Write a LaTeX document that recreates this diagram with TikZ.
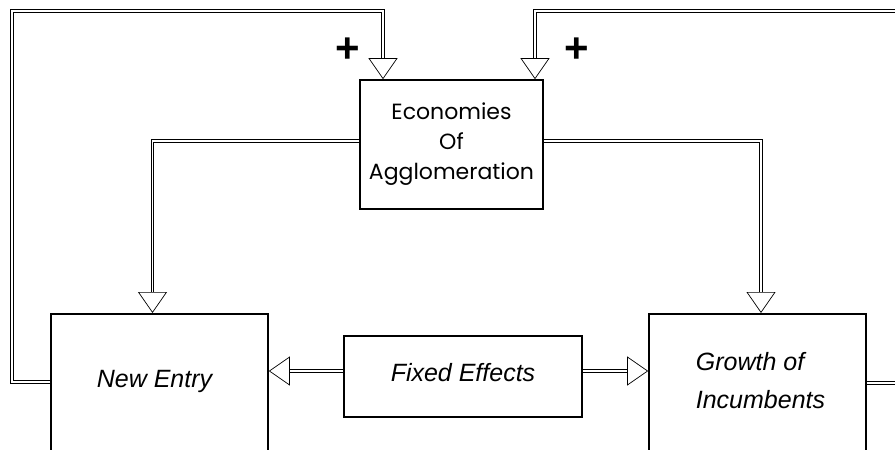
\documentclass[tikz,border=0pt]{standalone}
\usepackage{fontspec}
\setmainfont{Liberation Sans}
\newfontfamily\handfont{Poppins}
\usetikzlibrary{positioning, arrows.meta}

\tikzset{
  box/.style = {draw, line width=1.6pt, rectangle, inner sep=0pt},
  lbl/.style = {font=\itshape\fontsize{25}{38}\selectfont},
  link/.style = {double, line width=0.9pt, double distance=1.8pt,
                 -{Triangle[open, width=29pt, length=21pt, line width=0.7pt]}},
  sign/.style = {font=\bfseries\fontsize{42}{42}\selectfont}
}

\begin{document}
\begin{tikzpicture}[x=1pt, y=-1pt]
  \useasboundingbox (0,0) rectangle (895,450);
  \clip (0,0) rectangle (895,450);

  % boxes
  \node[box, minimum width=183pt, minimum height=129pt, align=center,
        font=\handfont\fontsize{22}{30}\selectfont] (econ) at (451.5,144.5)
        {Economies\\Of\\Agglomeration};
  \node[box, minimum width=217pt, minimum height=180pt, anchor=north] (entry) at (159.5,313) {};
  \node[box, minimum width=217pt, minimum height=180pt, anchor=north] (growth) at (757.5,313) {};
  \node[box, lbl, minimum width=238pt, minimum height=81pt, text depth=9pt] (fixed) at (463,376.5) {Fixed Effects};

  % texts in the cut boxes
  \node[lbl] (entrytxt) at ([xshift=-5pt, yshift=-68pt]entry.north) {New Entry};
  \node[lbl, align=left] (growthtxt) at ([xshift=3pt, yshift=-68pt]growth.north) {Growth of\\Incumbents};

  \node[sign] (plusl) at (348,50) {+};
  \node[sign] (plusr) at (577,50) {+};

  % links
  \coordinate (lcorner) at (12,11);
  \coordinate (rcorner) at (910,11);
  \draw[link] ([yshift=3.5pt]econ.west) -| ([xshift=-7pt]entry.north);
  \draw[link] ([yshift=3.5pt]econ.east) -| ([xshift=3.5pt]growth.north);
  \draw[link] ([yshift=5.5pt]fixed.west) -- ([yshift=5.5pt]fixed.west -| entry.east);
  \draw[link] ([yshift=5.5pt]fixed.east) -- ([yshift=5.5pt]fixed.east -| growth.west);
  \draw[link] ([yshift=-69pt]entry.north west) -| (lcorner) -| ([xshift=-68.5pt]econ.north);
  \draw[link] ([yshift=-70pt]growth.north east) -| (rcorner) -| ([xshift=83.5pt]econ.north);
\end{tikzpicture}
\end{document}
